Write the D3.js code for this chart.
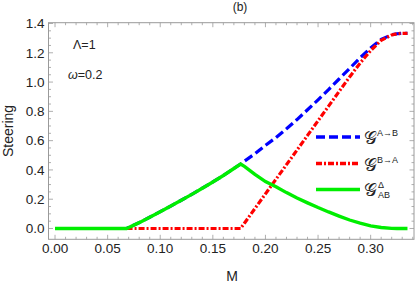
<!DOCTYPE html>
<html><head><meta charset="utf-8">
<script src="https://cdn.jsdelivr.net/npm/d3@7"></script>
<style>
html,body{margin:0;padding:0;background:#fff;}
text{font-family:"Liberation Sans",Arial,sans-serif;}
</style></head>
<body><svg id="c" width="415" height="284"></svg>
<script>
// Data
const M_left = [0, 0.02, 0.04, 0.06, 0.068, 0.08, 0.09, 0.10, 0.11, 0.12, 0.13, 0.14, 0.15, 0.16, 0.17, 0.1764];
const G_left = [0, 0, 0, 0, 0, 0.04, 0.077, 0.115, 0.153, 0.193, 0.233, 0.275, 0.318, 0.362, 0.410, 0.44];
const M_right = [0.1764, 0.18, 0.19, 0.20, 0.21, 0.22, 0.23, 0.24, 0.25, 0.26, 0.27, 0.28, 0.29, 0.30, 0.31, 0.32, 0.325, 0.33, 0.335];
const blueAB = [0.44, 0.46, 0.51, 0.568, 0.621, 0.681, 0.744, 0.811, 0.879, 0.949, 1.021, 1.093, 1.166, 1.233, 1.292, 1.323, 1.330, 1.333, 1.333];
const redBA = [0, 0.036, 0.136, 0.236, 0.336, 0.436, 0.536, 0.636, 0.736, 0.836, 0.936, 1.035, 1.13, 1.215, 1.285, 1.322, 1.330, 1.333, 1.333];
const greenD = [0.44, 0.424, 0.37, 0.32, 0.285, 0.245, 0.208, 0.175, 0.143, 0.113, 0.085, 0.058, 0.036, 0.018, 0.007, 0.001, 0, 0, 0];
const xTicks = [0, 0.05, 0.10, 0.15, 0.20, 0.25, 0.30];
const yTicks = [0, 0.2, 0.4, 0.6, 0.8, 1.0, 1.2, 1.4];

const svg = d3.select("#c");
const L = 48.5, R = 414, T = 22.7, B = 239.3;
const x = d3.scaleLinear().domain([-0.0062, 0.3412]).range([L, R]);
const y = d3.scaleLinear().domain([-0.0738, 1.4055]).range([B, T]);

const frameCol = "#9a9a9a";
svg.append("rect").attr("x", L).attr("y", T).attr("width", R - L).attr("height", B - T)
  .attr("fill", "none").attr("stroke", frameCol).attr("stroke-width", 1);

const xMinor = d3.range(0, 0.345, 0.01).filter(v => xTicks.every(t => Math.abs(t - v) > 1e-6));
const yMinor = d3.range(0, 1.41, 0.05).filter(v => yTicks.every(t => Math.abs(t - v) > 1e-6));
const g = svg.append("g").attr("stroke", frameCol).attr("stroke-width", 0.8);
xTicks.forEach(v => {
  g.append("line").attr("x1", x(v)).attr("x2", x(v)).attr("y1", B).attr("y2", B - 4.5);
  g.append("line").attr("x1", x(v)).attr("x2", x(v)).attr("y1", T).attr("y2", T + 4.5);
});
xMinor.forEach(v => {
  g.append("line").attr("x1", x(v)).attr("x2", x(v)).attr("y1", B).attr("y2", B - 2.5);
  g.append("line").attr("x1", x(v)).attr("x2", x(v)).attr("y1", T).attr("y2", T + 2.5);
});
yTicks.forEach(v => {
  g.append("line").attr("x1", L).attr("x2", L + 4.5).attr("y1", y(v)).attr("y2", y(v));
  g.append("line").attr("x1", R).attr("x2", R - 4.5).attr("y1", y(v)).attr("y2", y(v));
});
yMinor.forEach(v => {
  g.append("line").attr("x1", L).attr("x2", L + 2.5).attr("y1", y(v)).attr("y2", y(v));
  g.append("line").attr("x1", R).attr("x2", R - 2.5).attr("y1", y(v)).attr("y2", y(v));
});

const labCol = "#222";
svg.append("g").selectAll("text").data(xTicks).join("text")
  .attr("x", d => x(d)).attr("y", B + 14).attr("text-anchor", "middle")
  .attr("font-size", 13.5).attr("fill", labCol).text(d => d3.format(".2f")(d));
svg.append("g").selectAll("text").data(yTicks).join("text")
  .attr("x", L - 4).attr("y", d => y(d)).attr("dy", "0.35em").attr("text-anchor", "end")
  .attr("font-size", 13.5).attr("fill", labCol).text(d => d3.format(".1f")(d));

svg.append("text").attr("x", 232).attr("y", 281).attr("text-anchor", "middle")
  .attr("font-size", 14).attr("fill", labCol).text("M");
svg.append("text").attr("transform", "translate(13,131) rotate(-90)").attr("text-anchor", "middle")
  .attr("font-size", 14).attr("fill", labCol).text("Steering");
svg.append("text").attr("x", 240).attr("y", 11).attr("text-anchor", "middle")
  .attr("font-size", 12).attr("fill", labCol).text("(b)");

svg.append("text").attr("x", 73).attr("y", 49).attr("font-size", 12.5).attr("fill", labCol).text("Λ=1");
const om = svg.append("text").attr("x", 68).attr("y", 79).attr("font-size", 12.5).attr("fill", labCol);
om.append("tspan").attr("font-style", "italic").text("ω");
om.append("tspan").text("=0.2");

const line = d3.line().x(d => x(d[0])).y(d => y(d[1]));
const bluePts = M_left.map((m, i) => [m, G_left[i]]).concat(M_right.slice(1).map((m, i) => [m, blueAB[i + 1]]));
const redPts = [[0.068, 0]].concat(M_right.map((m, i) => [m, redBA[i]]));
const greenPts = M_left.map((m, i) => [m, G_left[i]]).concat(M_right.slice(1).map((m, i) => [m, greenD[i + 1]]));

svg.append("clipPath").attr("id", "clp").append("rect")
  .attr("x", L).attr("y", T).attr("width", R - L).attr("height", B - T);
const plot = svg.append("g").attr("clip-path", "url(#clp)");
plot.append("path").attr("d", line(bluePts)).attr("fill", "none").attr("stroke", "#0000ff")
  .attr("stroke-width", 3.2).attr("stroke-dasharray", "9,4");
plot.append("path").attr("d", line(redPts)).attr("fill", "none").attr("stroke", "#ff0000")
  .attr("stroke-width", 3.2).attr("stroke-dasharray", "6,2,2,2");
plot.append("path").attr("d", line(greenPts)).attr("fill", "none").attr("stroke", "#00ee00")
  .attr("stroke-width", 3.4);

const legY = [137, 163.5, 189.5];
const legSty = [["#0000ff", "9,4"], ["#ff0000", "6,2,2,2"], ["#00ee00", null]];
legSty.forEach((s, i) => {
  const l = svg.append("line").attr("x1", 316).attr("x2", 360).attr("y1", legY[i]).attr("y2", legY[i])
    .attr("stroke", s[0]).attr("stroke-width", 3.4);
  if (s[1]) l.attr("stroke-dasharray", s[1]);
});
const gl = "𝒢";
const legLabels = ["A→B", "B→A"];
legLabels.forEach((lab, i) => {
  const t = svg.append("text").attr("x", 364).attr("y", legY[i] + 7).attr("fill", labCol);
  t.append("tspan").attr("font-size", 18).text(gl);
  t.append("tspan").attr("font-size", 9).attr("dy", -8).text(lab);
});
const t3 = svg.append("text").attr("x", 364).attr("y", legY[2] + 6).attr("fill", labCol);
t3.append("tspan").attr("font-size", 18).text(gl);
svg.append("text").attr("x", 378).attr("y", legY[2] - 2).attr("font-size", 9).attr("fill", labCol).text("Δ");
svg.append("text").attr("x", 378).attr("y", legY[2] + 8.5).attr("font-size", 9).attr("fill", labCol).text("AB");
</script>
</body></html>
